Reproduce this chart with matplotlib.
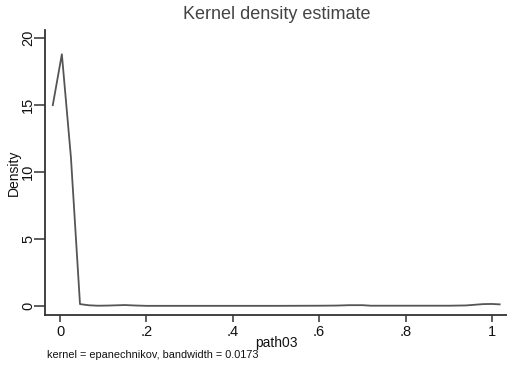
import matplotlib
matplotlib.use("Agg")
import matplotlib.pyplot as plt

plt.rcParams['font.family'] = ['Liberation Sans', 'DejaVu Sans']

# density curve (vertices of the polyline)
x_vals = [-0.017, 0.004, 0.025, 0.046, 0.067, 0.088, 0.11, 0.13, 0.15, 0.17,
          0.2, 0.3, 0.4, 0.5, 0.6, 0.64, 0.67, 0.7, 0.72, 0.8, 0.9, 0.94,
          0.96, 0.98, 1.0, 1.018]
density = [15.0, 18.8, 11.1, 0.15, 0.06, 0.03, 0.04, 0.06, 0.08, 0.05,
           0.02, 0.02, 0.02, 0.02, 0.03, 0.04, 0.07, 0.07, 0.03, 0.03, 0.03, 0.05,
           0.1, 0.15, 0.16, 0.13]

xticks = [0, 0.2, 0.4, 0.6, 0.8, 1.0]
xticklabels = ["0", ".2", ".4", ".6", ".8", "1"]
yticks = [0, 5, 10, 15, 20]

fig = plt.figure(figsize=(5.07, 3.72), dpi=100)
ax = fig.add_axes([0.0888, 0.153, 0.9112, 0.766])

ax.plot(x_vals, density, color="#555555", lw=1.3)

ax.set_xlim(-0.035, 1.035)
ax.set_ylim(-0.67, 20.6)
ax.set_xticks(xticks)
ax.set_xticklabels(xticklabels)
ax.set_yticks(yticks)
ax.set_yticklabels([str(v) for v in yticks], rotation=90, va="center")

for s in ["top", "right"]:
    ax.spines[s].set_visible(False)
for s in ["left", "bottom"]:
    ax.spines[s].set_color("#333333")
    ax.spines[s].set_linewidth(1.3)

ax.tick_params(axis="both", width=1.1, color="#333333",
               labelsize=10.5, labelcolor="#111111")
ax.tick_params(axis="y", length=8, pad=-1)
ax.tick_params(axis="x", length=5, pad=2)

ax.set_ylabel("Density", fontsize=10, color="#111111", labelpad=0)
ax.set_xlabel("path03", fontsize=10, color="#111111", labelpad=-2)

fig.text(0.545, 0.960, "Kernel density estimate", ha="center", va="center",
         fontsize=13, color="#444444")
fig.text(0.093, 0.045, "kernel = epanechnikov, bandwidth = 0.0173",
         ha="left", va="center", fontsize=7.8, color="#111111")

fig.savefig("out.png", dpi=100)
